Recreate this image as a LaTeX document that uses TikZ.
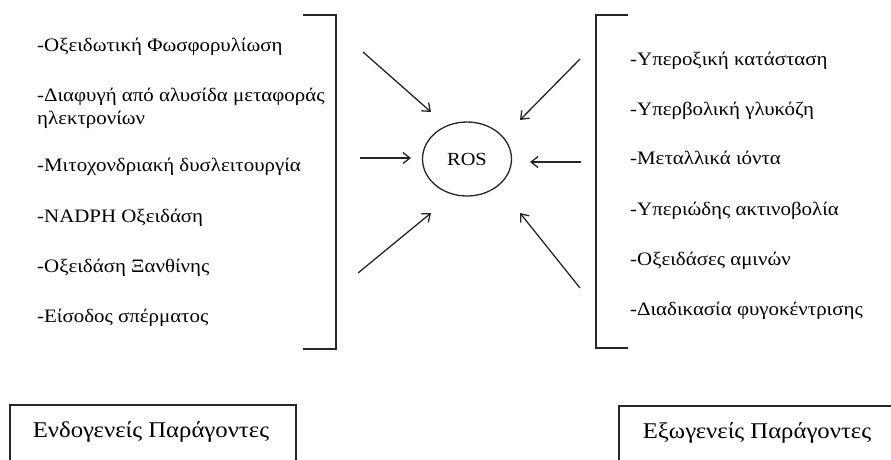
\documentclass[tikz,border=0pt]{standalone}
\usepackage{fontspec}
\setmainfont[FakeStretch=1.1]{Liberation Serif}
\usetikzlibrary{arrows.meta,shapes.geometric}
\begin{document}
\begin{tikzpicture}[x=1pt,y=-1pt,
  lbl/.style={anchor=base west, inner sep=0pt, align=left, font=\fontsize{19}{23}\selectfont},
  ttl/.style={anchor=base, inner sep=0pt, font=\fontsize{22.5}{26}\selectfont},
  brk/.style={line width=1.6pt, draw=black!85},
  arr/.style={line width=1.3pt, draw=black!85, -{Straight Barb[length=7pt,width=11pt,line width=1.3pt]}},
  frame/.style={line width=1.4pt, draw=black!85}]
\clip (0,0) rectangle (891,459);
\fill[white] (0,0) rectangle (891,459);
% left list
\node[lbl] (l1) at (37,51) {-Οξειδωτική Φωσφορυλίωση};
\node[lbl] (l2) at (37,124) {-Διαφυγή από αλυσίδα μεταφοράς\\ηλεκτρονίων};
\node[lbl] (l3) at (37,171) {-Μιτοχονδριακή δυσλειτουργία};
\node[lbl] (l4) at (37,222) {-NADPH Οξειδάση};
\node[lbl] (l5) at (37,272) {-Οξειδάση Ξανθίνης};
\node[lbl] (l6) at (37,322) {-Είσοδος σπέρματος};
% right list
\node[lbl] (r1) at (630,65) {-Υπεροξική κατάσταση};
\node[lbl] (r2) at (630,115) {-Υπερβολική γλυκόζη};
\node[lbl] (r3) at (630,164) {-Μεταλλικά ιόντα};
\node[lbl] (r4) at (630,215) {-Υπεριώδης ακτινοβολία};
\node[lbl] (r5) at (630,265) {-Οξειδάσες αμινών};
\node[lbl] (r6) at (630,315) {-Διαδικασία φυγοκέντρισης};
% brackets
\draw[brk] (303,15) -- (336,15) -- (336,349) -- (303,349);
\draw[brk] (628,15) -- (596,15) -- (596,348) -- (628,348);
% ROS
\node[draw=black!85, line width=1.3pt, ellipse, minimum width=89pt, minimum height=74pt, inner sep=0pt,
      font=\fontsize{18.5}{20}\selectfont] (ros) at (467,159) {ROS};
% arrow ends
\coordinate (s1) at (363,52);  \coordinate (e1) at (431,112);
\coordinate (s2) at (580,59);  \coordinate (e2) at (520,120);
\coordinate (s3) at (360,158); \coordinate (e3) at (411,158);
\coordinate (s4) at (581,162); \coordinate (e4) at (530,162);
\coordinate (s5) at (358,273); \coordinate (e5) at (431,213);
\coordinate (s6) at (580,288); \coordinate (e6) at (520,213);
\foreach \i in {1,...,6} {\draw[arr] (s\i) -- (e\i);}
% bottom boxes
\draw[frame] (10,405) rectangle (296,470);
\node[ttl] (endo) at (151,437) {Ενδογενείς Παράγοντες};
\draw[frame] (619,406) rectangle (900,470);
\node[ttl] (exo) at (757,438) {Εξωγενείς Παράγοντες};
\end{tikzpicture}
\end{document}
